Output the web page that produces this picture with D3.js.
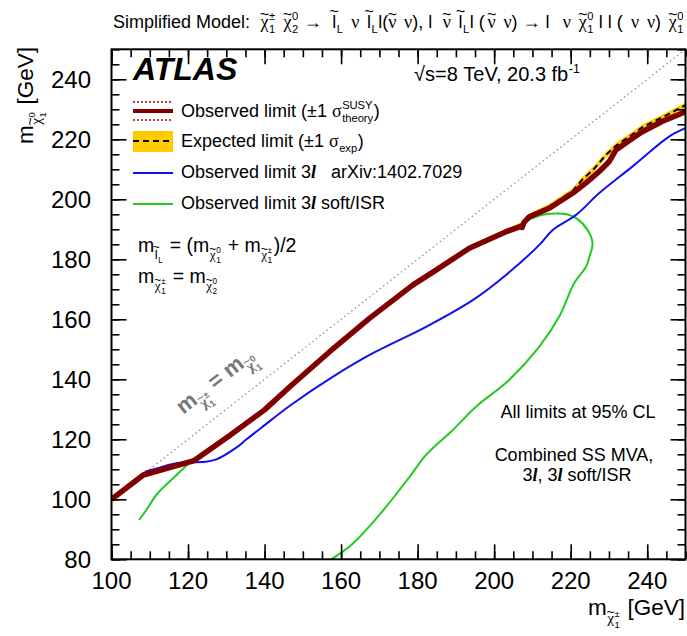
<!DOCTYPE html>
<html>
<head>
<meta charset="utf-8">
<script src="https://cdn.jsdelivr.net/npm/d3@7"></script>
<style>
body { margin: 0; background: #fff; }
text { font-family: 'Liberation Sans', Arial, Helvetica, sans-serif; fill: #000; white-space: pre; }
</style>
</head>
<body>
<svg id="chart" width="687" height="636"></svg>
<script>
// axis ticks
const xTicks = [100, 120, 140, 160, 180, 200, 220, 240]
const yTicks = [80, 100, 120, 140, 160, 180, 200, 220, 240]

// observed limit (combined)
const obsMass = [100, 108.3, 121.6, 130.9, 140, 146.6, 157, 167.4, 178.7, 184.8, 193.5, 203.1, 206.8, 207.3, 207.8, 209.2, 214.4, 220.5, 224, 227.4, 230, 231.8, 236.1, 238.7, 244, 250]
const obsLimit = [100, 108.1, 112.9, 121.3, 129.8, 137.5, 149.2, 160.3, 171.4, 176.4, 183.7, 189.2, 190.9, 190.6, 192.3, 194.2, 197, 202, 205.5, 209.2, 212.5, 216.4, 220.3, 222.5, 226, 229.2]

// expected limit and its +-1 sigma band
const expMass = [100, 108.3, 121.6, 130.9, 140, 146.6, 157, 167.4, 178.7, 184.8, 193.5, 203.1, 207.4, 209.2, 214.4, 220.5, 223, 226, 229.2, 232, 236, 238.7, 245, 250]
const expLimit = [100, 108.1, 112.9, 121.3, 129.8, 137.5, 149.2, 160.3, 171.4, 176.4, 183.7, 189.2, 191.6, 194.4, 197.6, 202.8, 206.5, 210, 214.8, 218, 221.5, 224, 228, 231.4]
const bandMass = [203.1, 207.4, 209.2, 214.4, 220.5, 223, 226, 229.2, 232, 236, 238.7, 245, 250]
const bandUp = [190.1, 192.5, 195.3, 198.5, 203.7, 207.5, 211, 215.8, 219, 222.4, 224.9, 228.9, 232.3]
const bandDown = [188.3, 190.7, 193.5, 196.7, 201.9, 205.5, 209, 213.8, 217, 220.6, 223.1, 227.1, 230.5]

// observed limit 3l arXiv:1402.7029
const blueMass = [108.7, 111.8, 116, 120, 124.4, 127.4, 132.7, 135.3, 139.6, 146.6, 157.9, 168.3, 182.2, 194.4, 203.1, 211.8, 215.3, 221.4, 227.4, 236.1, 245.7, 250]
const blueLimit = [109.2, 110.3, 111.8, 112.3, 112.5, 113.3, 117.3, 120.0, 124.3, 131.2, 140.9, 148.7, 157.5, 166.4, 174.8, 184.8, 189.8, 194.8, 202, 210.9, 220.9, 223.7]

// observed limit 3l soft/ISR
const greenMass = [107.2, 109.2, 111.8, 116.1, 120.5, 121.6, 130.9, 140, 157, 178.7, 193.5, 203.1, 208, 210, 213, 216.1, 219, 221.4, 224.4, 225.7, 224.8, 224, 220.9, 217, 211.8, 203.9, 195.3, 189.2, 182.2, 177.9, 170, 163.1, 157.2]
const greenLimit = [93.1, 96.6, 101.6, 107, 112.2, 112.9, 121.3, 129.8, 149.2, 171.4, 183.7, 189.2, 192.5, 193.7, 194.9, 195.3, 195, 193.7, 189.8, 185.3, 180.5, 177.5, 172, 160.9, 150.9, 139.8, 130.9, 123.1, 114.8, 107.5, 94.8, 85.3, 79.8]

// kinematic boundary m(chargino) = m(neutralino)
const diagMass = [109, 250]

const svg = d3.select('#chart')
const plotLeft = 111.5, plotRight = 685.5, plotTop = 49.3, plotBottom = 559.3
const x = d3.scaleLinear().domain([100, 250]).range([plotLeft, plotRight])
const y = d3.scaleLinear().domain([80, 250]).range([plotBottom, plotTop])

// text with tildes, sub- and superscripts, laid out piece by piece
function styleText(el, p) {
    if (p.italic) el.style('font-style', 'italic')
    if (p.bold) el.style('font-weight', 'bold')
    if (p.serif) el.style('font-family', "'Liberation Serif', 'Times New Roman', serif")
    if (p.fill) el.style('fill', p.fill)
}
const nb = s => s.replace(/ /g, '\u00a0')
function rich(g, parts, size, x0, y0, opt = {}) {
    let cx = x0
    const gap = opt.gap || 0
    parts.forEach(p => {
        if (typeof p == 'string') p = { t: p }
        p = Object.assign({}, opt, p)
        if (p.t !== undefined) {
            const el = g.append('text').attr('x', cx).attr('y', y0).attr('font-size', size).text(nb(p.t))
            styleText(el, p)
            cx += el.node().getComputedTextLength() + gap * (p.t.split(' ').length - 1)
            return
        }
        const el = g.append('text').attr('x', cx).attr('y', y0).attr('font-size', size).text(p.b)
        styleText(el, p)
        const w = el.node().getComputedTextLength()
        if (p.tilde) {
            const h = p.tildeH || 0.72
            const tl = g.append('text').attr('x', cx + w / 2).attr('y', y0 - h * size + 0.3 * size)
                .attr('font-size', size * 0.9).attr('text-anchor', 'middle').text('~')
            styleText(tl, { fill: p.fill })
        }
        let sw = 0
        const ss = size * 0.62
        if (p.sup) {
            const s = g.append('text').attr('x', cx + w + 0.5).attr('y', y0 - size * 0.42).attr('font-size', ss).text(p.sup)
            styleText(s, { fill: p.fill, bold: p.bold })
            sw = Math.max(sw, s.node().getComputedTextLength())
        }
        if (p.sub) {
            const s = g.append('text').attr('x', cx + w + 0.5).attr('y', y0 + size * 0.3).attr('font-size', ss).text(p.sub)
            styleText(s, { fill: p.fill, bold: p.bold })
            sw = Math.max(sw, s.node().getComputedTextLength())
        }
        if (p.subParts) {
            const end = rich(g, p.subParts, size * 0.68, cx + w + 0.5, y0 + size * 0.36, { fill: p.fill, bold: p.bold })
            sw = Math.max(sw, end - cx - w)
        }
        cx += w + sw + (sw ? 1 : 0)
    })
    return cx
}
const chi = (sup, sub) => ({ b: 'χ', serif: true, tilde: true, sup: sup, sub: sub })
const slep = sub => ({ b: 'l', tilde: true, tildeH: 0.92, sub: sub })
const snu = { b: 'ν', serif: true, tilde: true }
const nu = { t: 'ν', serif: true }
const ell = { t: 'l', italic: true, serif: true, bold: true }

function richAt(parts, size, xPos, yPos, anchor, opt) {
    const g = svg.append('g')
    const w = rich(g, parts, size, 0, 0, opt)
    const shift = anchor == 'end' ? -w : anchor == 'middle' ? -w / 2 : 0
    g.attr('transform', `translate(${xPos + shift},${yPos})`)
    return w
}

// title, its spaces stretched so that it spans the frame
const titleParts = ['Simplified Model: ', chi('±', '1'), ' ', chi('0', '2'), ' → ', slep('L'), ' ', nu, ' ', slep('L'), 'l(', snu, ' ', nu, '), l ', snu, ' ', slep('L'), 'l (', snu, ' ', nu, ') → l ', nu, ' ', chi('0', '1'), ' l l (', nu, ' ', nu, ') ', chi('0', '1')]
{
    const probe = svg.append('g')
    const w = rich(probe, titleParts, 18, 0, 0)
    probe.remove()
    const spaces = titleParts.filter(p => typeof p == 'string').join('').split(' ').length - 1
    richAt(titleParts, 18, 113, 28, 'start', { gap: Math.max(0, (571 - w) / spaces) })
}

// clip for curves
svg.append('clipPath').attr('id', 'plotClip').append('rect')
    .attr('x', plotLeft).attr('y', plotTop).attr('width', plotRight - plotLeft).attr('height', plotBottom - plotTop)
const plot = svg.append('g').attr('clip-path', 'url(#plotClip)')

const line = d3.line().x(d => x(d[0])).y(d => y(d[1]))
const smooth = d3.line().x(d => x(d[0])).y(d => y(d[1])).curve(d3.curveCatmullRom)
const band = d3.area().x(d => x(d[0])).y0(d => y(d[1])).y1(d => y(d[2]))

plot.append('path').datum(diagMass.map(m => [m, m])).attr('d', line)
    .attr('fill', 'none').attr('stroke', '#888').attr('stroke-width', 1.2).attr('stroke-dasharray', '1.5,3')
plot.append('path').datum(bandMass.map((m, i) => [m, bandDown[i], bandUp[i]])).attr('d', band)
    .attr('fill', '#ffcc00')
plot.append('path').datum(expMass.map((m, i) => [m, expLimit[i]])).attr('d', line)
    .attr('fill', 'none').attr('stroke', '#000').attr('stroke-width', 2).attr('stroke-dasharray', '6,4')
plot.append('path').datum(greenMass.map((m, i) => [m, greenLimit[i]])).attr('d', smooth)
    .attr('fill', 'none').attr('stroke', '#1fcc1f').attr('stroke-width', 2)
plot.append('path').datum(blueMass.map((m, i) => [m, blueLimit[i]])).attr('d', smooth)
    .attr('fill', 'none').attr('stroke', '#1010ee').attr('stroke-width', 2)
plot.append('path').datum(obsMass.map((m, i) => [m, obsLimit[i]])).attr('d', line)
    .attr('fill', 'none').attr('stroke', '#800000').attr('stroke-width', 5.5).attr('stroke-linejoin', 'round')

// axes, ticks on all four sides pointing in
function ticks(axis, major, minor, pos) {
    svg.append('g').attr('transform', pos).call(axis.tickValues(minor).tickSize(-8).tickFormat(''))
        .call(g => g.select('.domain').remove())
    svg.append('g').attr('transform', pos).call(axis.tickValues(major).tickSize(-15).tickFormat(''))
        .call(g => g.select('.domain').remove())
}
const xMinor = d3.range(100, 251, 5)
const yMinor = d3.range(80, 251, 5)
ticks(d3.axisBottom(x), xTicks, xMinor, `translate(0,${plotBottom})`)
ticks(d3.axisTop(x), xTicks, xMinor, `translate(0,${plotTop})`)
ticks(d3.axisLeft(y), yTicks, yMinor, `translate(${plotLeft},0)`)
ticks(d3.axisRight(y), yTicks, yMinor, `translate(${plotRight},0)`)
svg.selectAll('.tick line').attr('stroke', '#000').attr('stroke-width', 1.6)
svg.append('rect').attr('x', plotLeft).attr('y', plotTop).attr('width', plotRight - plotLeft).attr('height', plotBottom - plotTop)
    .attr('fill', 'none').attr('stroke', '#000').attr('stroke-width', 2)

svg.append('g').selectAll('text').data(xTicks).join('text')
    .attr('x', d => x(d)).attr('y', 589).attr('text-anchor', 'middle').attr('font-size', 24).text(d => d)
svg.append('g').selectAll('text').data(yTicks).join('text')
    .attr('x', 91).attr('y', d => y(d) + 8.5).attr('text-anchor', 'end').attr('font-size', 24).text(d => d)

// axis titles
richAt([{ b: 'm', subParts: [chi('±', '1')] }, ' [GeV]'], 22.5, 685, 615, 'end')
{
    const g = svg.append('g')
    const w = rich(g, [{ b: 'm', subParts: [chi('0', '1')] }, ' [GeV]'], 22.5, 0, 0)
    g.attr('transform', `translate(33,${47 + w}) rotate(-90)`)
}

// ATLAS label and energy
svg.append('text').attr('x', 133).attr('y', 80).attr('font-size', 32).style('font-weight', 'bold')
    .style('font-style', 'italic').text('ATLAS')
richAt(['√s=8 TeV, 20.3 fb', { b: '', sup: '-1' }], 20, 414, 81, 'start')

// legend
const lg = svg.append('g')
lg.append('line').attr('x1', 133).attr('x2', 173).attr('y1', 111).attr('y2', 111).attr('stroke', '#800000').attr('stroke-width', 4)
;[102, 120].forEach(yy => lg.append('line').attr('x1', 133).attr('x2', 173).attr('y1', yy).attr('y2', yy)
    .attr('stroke', '#a00000').attr('stroke-width', 1.5).attr('stroke-dasharray', '2,2'))
lg.append('rect').attr('x', 133).attr('y', 131).attr('width', 40).attr('height', 21).attr('fill', '#ffcc00')
lg.append('line').attr('x1', 133).attr('x2', 173).attr('y1', 141).attr('y2', 141).attr('stroke', '#000').attr('stroke-width', 2).attr('stroke-dasharray', '6,4')
lg.append('line').attr('x1', 133).attr('x2', 173).attr('y1', 173).attr('y2', 173).attr('stroke', '#1010ee').attr('stroke-width', 2)
lg.append('line').attr('x1', 133).attr('x2', 173).attr('y1', 204).attr('y2', 204).attr('stroke', '#1fcc1f').attr('stroke-width', 2)
richAt(['Observed limit (±1 ', { b: 'σ', serif: true, sup: 'SUSY', sub: 'theory' }, ')'], 18, 181, 117, 'start')
richAt(['Expected limit (±1 ', { b: 'σ', serif: true, sub: 'exp' }, ')'], 18, 181, 147, 'start')
richAt(['Observed limit 3', ell, '   arXiv:1402.7029'], 18, 181, 178, 'start')
richAt(['Observed limit 3', ell, ' soft/ISR'], 18, 181, 209, 'start')

// mass relations
richAt([{ b: 'm', subParts: [slep('L')] }, ' = (', { b: 'm', subParts: [chi('0', '1')] }, ' + ', { b: 'm', subParts: [chi('±', '1')] }, ')/2'], 19.5, 138, 252, 'start')
richAt([{ b: 'm', subParts: [chi('±', '1')] }, ' = ', { b: 'm', subParts: [chi('0', '2')] }], 19.5, 138, 283, 'start')

// kinematic boundary label
{
    const g = svg.append('g')
    const w = rich(g, [{ b: 'm', subParts: [chi('±', '1')] }, ' = ', { b: 'm', subParts: [chi('0', '1')] }], 22, 0, 0, { fill: '#777', bold: true })
    g.attr('transform', `translate(220,386) rotate(-38) translate(${-w / 2},0)`)
}

// notes
svg.append('text').attr('x', 578).attr('y', 418).attr('text-anchor', 'middle').attr('font-size', 18).text('All limits at 95% CL')
svg.append('text').attr('x', 574).attr('y', 461).attr('text-anchor', 'middle').attr('font-size', 18).text('Combined SS MVA,')
richAt(['3', ell, ', 3', ell, ' soft/ISR'], 18, 577, 481, 'middle')
</script>
</body>
</html>
